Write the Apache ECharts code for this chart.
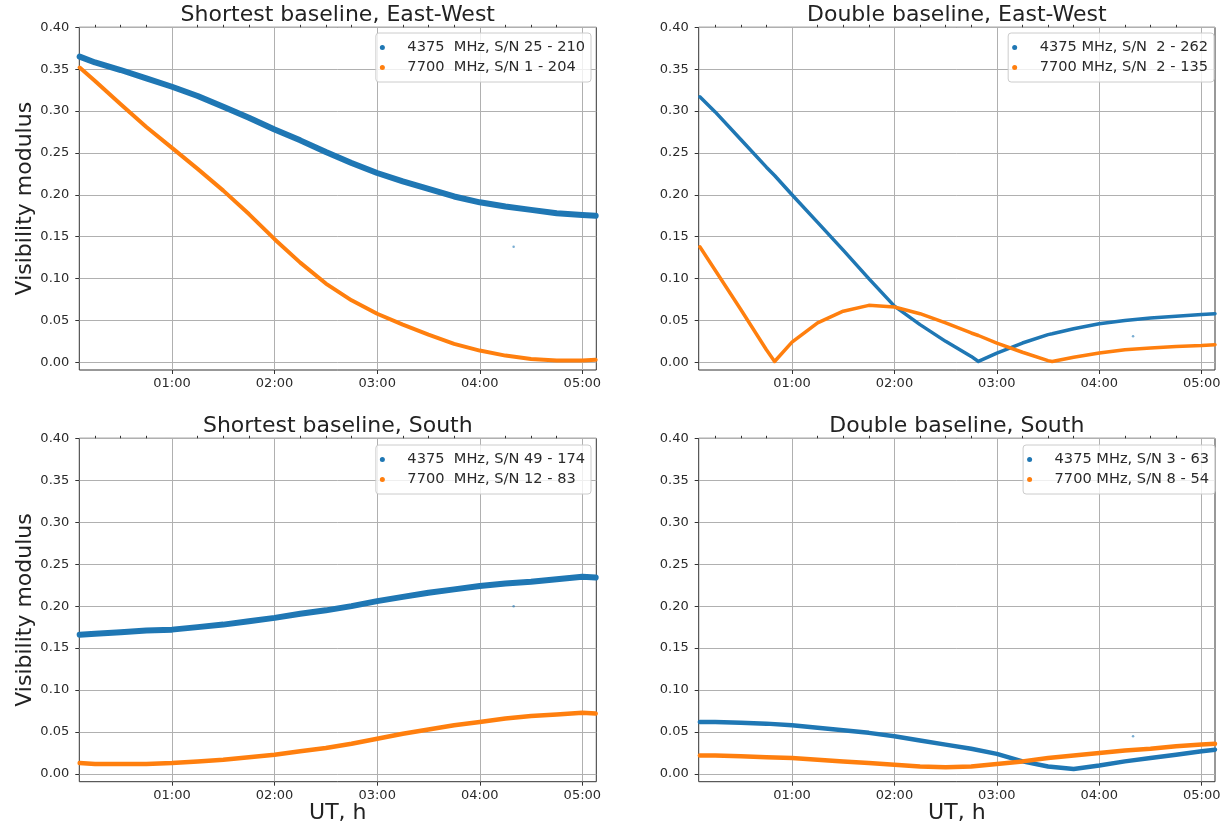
<!DOCTYPE html>
<html>
<head>
<meta charset="utf-8">
<script src="https://cdn.jsdelivr.net/npm/echarts@6.0.0/dist/echarts.min.js"></script>
<style>
  html, body { margin: 0; padding: 0; background: #ffffff; }
  #chart { width: 1231px; height: 831px; }
</style>
</head>
<body>
<div id="chart"></div>
<script>
// ---------------- DATA ----------------
// time in hours UT
const T = [0.1, 0.25, 0.5, 0.75, 1.0, 1.25, 1.5, 1.75, 2.0, 2.25, 2.5, 2.75, 3.0, 3.25, 3.5, 3.75, 4.0, 4.25, 4.5, 4.75, 5.0, 5.13];
// time grid of the "Double baseline, East-West" panel (includes the sharp minima)
const T_DEW = [0.1, 0.25, 0.5, 0.75, 0.83, 1.0, 1.25, 1.5, 1.75, 2.0, 2.25, 2.5, 2.75, 2.82, 3.0, 3.25, 3.5, 3.54, 3.75, 4.0, 4.25, 4.5, 4.75, 5.0, 5.13];

// Shortest baseline, East-West
const SEW_4375 = [0.365, 0.358, 0.349, 0.339, 0.329, 0.318, 0.305, 0.292, 0.278, 0.265, 0.251, 0.238, 0.226, 0.216, 0.207, 0.198, 0.191, 0.186, 0.182, 0.178, 0.176, 0.175];
const SEW_7700 = [0.352, 0.336, 0.308, 0.281, 0.256, 0.231, 0.205, 0.177, 0.147, 0.119, 0.094, 0.074, 0.058, 0.045, 0.033, 0.022, 0.014, 0.008, 0.004, 0.002, 0.002, 0.003];

// Double baseline, East-West
const DEW_4375 = [0.317, 0.299, 0.266, 0.233, 0.223, 0.200, 0.167, 0.134, 0.100, 0.067, 0.045, 0.025, 0.007, 0.001, 0.011, 0.023, 0.033, 0.034, 0.040, 0.046, 0.050, 0.053, 0.055, 0.057, 0.058];
const DEW_7700 = [0.138, 0.110, 0.063, 0.015, 0.001, 0.024, 0.047, 0.061, 0.068, 0.066, 0.058, 0.047, 0.035, 0.032, 0.023, 0.012, 0.002, 0.001, 0.006, 0.011, 0.015, 0.017, 0.019, 0.020, 0.021];

// Shortest baseline, South
const SS_4375 = [0.166, 0.167, 0.169, 0.171, 0.172, 0.175, 0.178, 0.182, 0.186, 0.191, 0.195, 0.200, 0.206, 0.211, 0.216, 0.220, 0.224, 0.227, 0.229, 0.232, 0.235, 0.234];
const SS_7700 = [0.013, 0.012, 0.012, 0.012, 0.013, 0.015, 0.017, 0.020, 0.023, 0.027, 0.031, 0.036, 0.042, 0.048, 0.053, 0.058, 0.062, 0.066, 0.069, 0.071, 0.073, 0.072];

// Double baseline, South
const DS_4375 = [0.062, 0.062, 0.061, 0.060, 0.058, 0.055, 0.052, 0.049, 0.045, 0.040, 0.035, 0.030, 0.024, 0.015, 0.009, 0.006, 0.010, 0.015, 0.019, 0.023, 0.027, 0.029];
const DS_7700 = [0.022, 0.022, 0.021, 0.020, 0.019, 0.017, 0.015, 0.013, 0.011, 0.009, 0.008, 0.009, 0.012, 0.015, 0.019, 0.022, 0.025, 0.028, 0.030, 0.033, 0.035, 0.036];

// isolated stray 4375 MHz points (one per panel)
const OUTLIER_T = [4.33, 4.33, 4.33, 4.33];
const OUTLIER_V = [0.138, 0.031, 0.200, 0.045];

// tick values / labels
const Y_TICKS = [0.00, 0.05, 0.10, 0.15, 0.20, 0.25, 0.30, 0.35, 0.40];
const X_MAJOR = [1, 2, 3, 4, 5];
const X_MINOR = [0.25, 0.5, 0.75, 1.25, 1.5, 1.75, 2.25, 2.5, 2.75, 3.25, 3.5, 3.75, 4.25, 4.5, 4.75];

const TITLES = ['Shortest baseline, East-West', 'Double baseline, East-West', 'Shortest baseline, South', 'Double baseline, South'];
const NAMES_4375 = ['4375  MHz, S/N 25 - 210', '4375 MHz, S/N  2 - 262', '4375  MHz, S/N 49 - 174', '4375 MHz, S/N 3 - 63'];
const NAMES_7700 = ['7700  MHz, S/N 1 - 204', '7700 MHz, S/N  2 - 135', '7700  MHz, S/N 12 - 83', '7700 MHz, S/N 8 - 54'];
const Y_NAME = 'Visibility modulus';
const X_NAME = 'UT, h';

// ---------------- LAYOUT / STYLE ----------------
const FONT = 'DejaVu Sans';
const BLUE = '#1f77b4';
const ORANGE = '#ff7f0e';
const GRIDC = '#b0b0b0';
const AXC = '#333333';

const panels = [
  { grid: { left: 79.3, top: 27.3, width: 517, height: 342.7 }, xmin: 0.0965, xmax: 5.136, t: T,     blue: SEW_4375, orange: SEW_7700, lw: [6, 4], legend: { right: 640, top: 33 }, yName: true,  xName: false },
  { grid: { left: 698.7, top: 27.3, width: 516.3, height: 342.7 }, xmin: 0.089, xmax: 5.130, t: T_DEW, blue: DEW_4375, orange: DEW_7700, lw: [3.5, 3.5], legend: { right: 17, top: 33 }, yName: false, xName: false },
  { grid: { left: 79.3, top: 438.3, width: 517, height: 343.4 }, xmin: 0.0965, xmax: 5.136, t: T,     blue: SS_4375, orange: SS_7700, lw: [6, 4.5], legend: { right: 640, top: 445 }, yName: true,  xName: true },
  { grid: { left: 698.7, top: 438.3, width: 516.3, height: 343.4 }, xmin: 0.089, xmax: 5.130, t: T,     blue: DS_4375, orange: DS_7700, lw: [4.5, 4.5], legend: { right: 16, top: 445 }, yName: false, xName: true }
];

const YMIN = -0.0092, YMAX = 0.40;

const grids = [], xAxes = [], yAxes = [], series = [], legends = [], graphics = [];

panels.forEach((p, i) => {
  grids.push(Object.assign({ show: true, borderColor: AXC, borderWidth: 1, backgroundColor: 'transparent', containLabel: false }, p.grid));

  xAxes.push({
    type: 'value', gridIndex: i, min: p.xmin, max: p.xmax,
    axisLine: { show: false, onZero: false },
    axisTick: { show: true, customValues: X_MAJOR, length: 4, lineStyle: { color: AXC, width: 1 } },
    axisLabel: { customValues: X_MAJOR, margin: 7, fontSize: 13, color: '#2a2a2a', fontFamily: FONT,
                 formatter: v => '0' + Math.round(v) + ':00' },
    splitLine: { show: true, lineStyle: { color: GRIDC, width: 1 } },
    name: p.xName ? X_NAME : '', nameLocation: 'middle', nameGap: 16,
    nameTextStyle: { fontSize: 22, color: '#222', fontFamily: FONT }
  });
  xAxes.push({
    type: 'value', gridIndex: i, min: p.xmin, max: p.xmax,
    axisLine: { show: false, onZero: false },
    axisTick: { show: true, customValues: X_MINOR, length: 2.5, lineStyle: { color: AXC, width: 1 } },
    axisLabel: { show: false },
    splitLine: { show: false }
  });

  yAxes.push({
    type: 'value', gridIndex: i, min: YMIN, max: YMAX,
    axisLine: { show: false, onZero: false },
    axisTick: { show: true, customValues: Y_TICKS, length: 4, lineStyle: { color: AXC, width: 1 } },
    axisLabel: { customValues: Y_TICKS, margin: 10, fontSize: 13, color: '#2a2a2a', fontFamily: FONT,
                 formatter: v => v.toFixed(2) },
    splitLine: { show: true, lineStyle: { color: GRIDC, width: 1 } },
    name: p.yName ? Y_NAME : '', nameLocation: 'middle', nameGap: 40, nameRotate: 90,
    nameTextStyle: { fontSize: 22, color: '#222', fontFamily: FONT }
  });

  series.push({
    type: 'line', name: NAMES_4375[i], xAxisIndex: 2 * i, yAxisIndex: i,
    data: p.t.map((x, k) => [x, p.blue[k]]),
    showSymbol: false, symbol: 'circle', symbolSize: 5,
    lineStyle: { color: BLUE, width: p.lw[0], join: 'round', cap: 'round' },
    itemStyle: { color: BLUE }, animation: false, silent: true, z: 2
  });
  series.push({
    type: 'scatter', name: NAMES_4375[i], xAxisIndex: 2 * i, yAxisIndex: i,
    data: [[OUTLIER_T[i], OUTLIER_V[i]]], symbolSize: 2.5,
    itemStyle: { color: BLUE, opacity: 0.6 }, animation: false, silent: true, z: 2
  });
  series.push({
    type: 'line', name: NAMES_7700[i], xAxisIndex: 2 * i, yAxisIndex: i,
    data: p.t.map((x, k) => [x, p.orange[k]]),
    showSymbol: false, symbol: 'circle', symbolSize: 5,
    lineStyle: { color: ORANGE, width: p.lw[1], join: 'round', cap: 'round' },
    itemStyle: { color: ORANGE }, animation: false, silent: true, z: 3
  });

  legends.push({
    data: [NAMES_4375[i], NAMES_7700[i]],
    orient: 'vertical', align: 'left', right: p.legend.right, top: p.legend.top,
    icon: 'circle', itemWidth: 30, itemHeight: 5, itemGap: 5,
    padding: [7, 6, 7, 4], borderColor: '#cccccc', borderWidth: 1, borderRadius: 3,
    backgroundColor: 'rgba(255,255,255,0.8)', selectedMode: false,
    textStyle: { fontSize: 14.6, lineHeight: 15, color: '#2a2a2a', fontFamily: FONT, padding: [0, 0, 0, 5] }
  });

  graphics.push({
    type: 'text', x: p.grid.left + p.grid.width / 2, y: p.grid.top - 12.5,
    style: { text: TITLES[i], font: '22px "DejaVu Sans"', fill: '#222', textAlign: 'center', textVerticalAlign: 'middle' }
  });
});

const chart = echarts.init(document.getElementById('chart'), null, { renderer: 'canvas' });
chart.setOption({
  backgroundColor: '#ffffff',
  animation: false,
  textStyle: { fontFamily: FONT },
  grid: grids,
  xAxis: xAxes,
  yAxis: yAxes,
  legend: legends,
  series: series,
  graphic: graphics
});
</script>
</body>
</html>
